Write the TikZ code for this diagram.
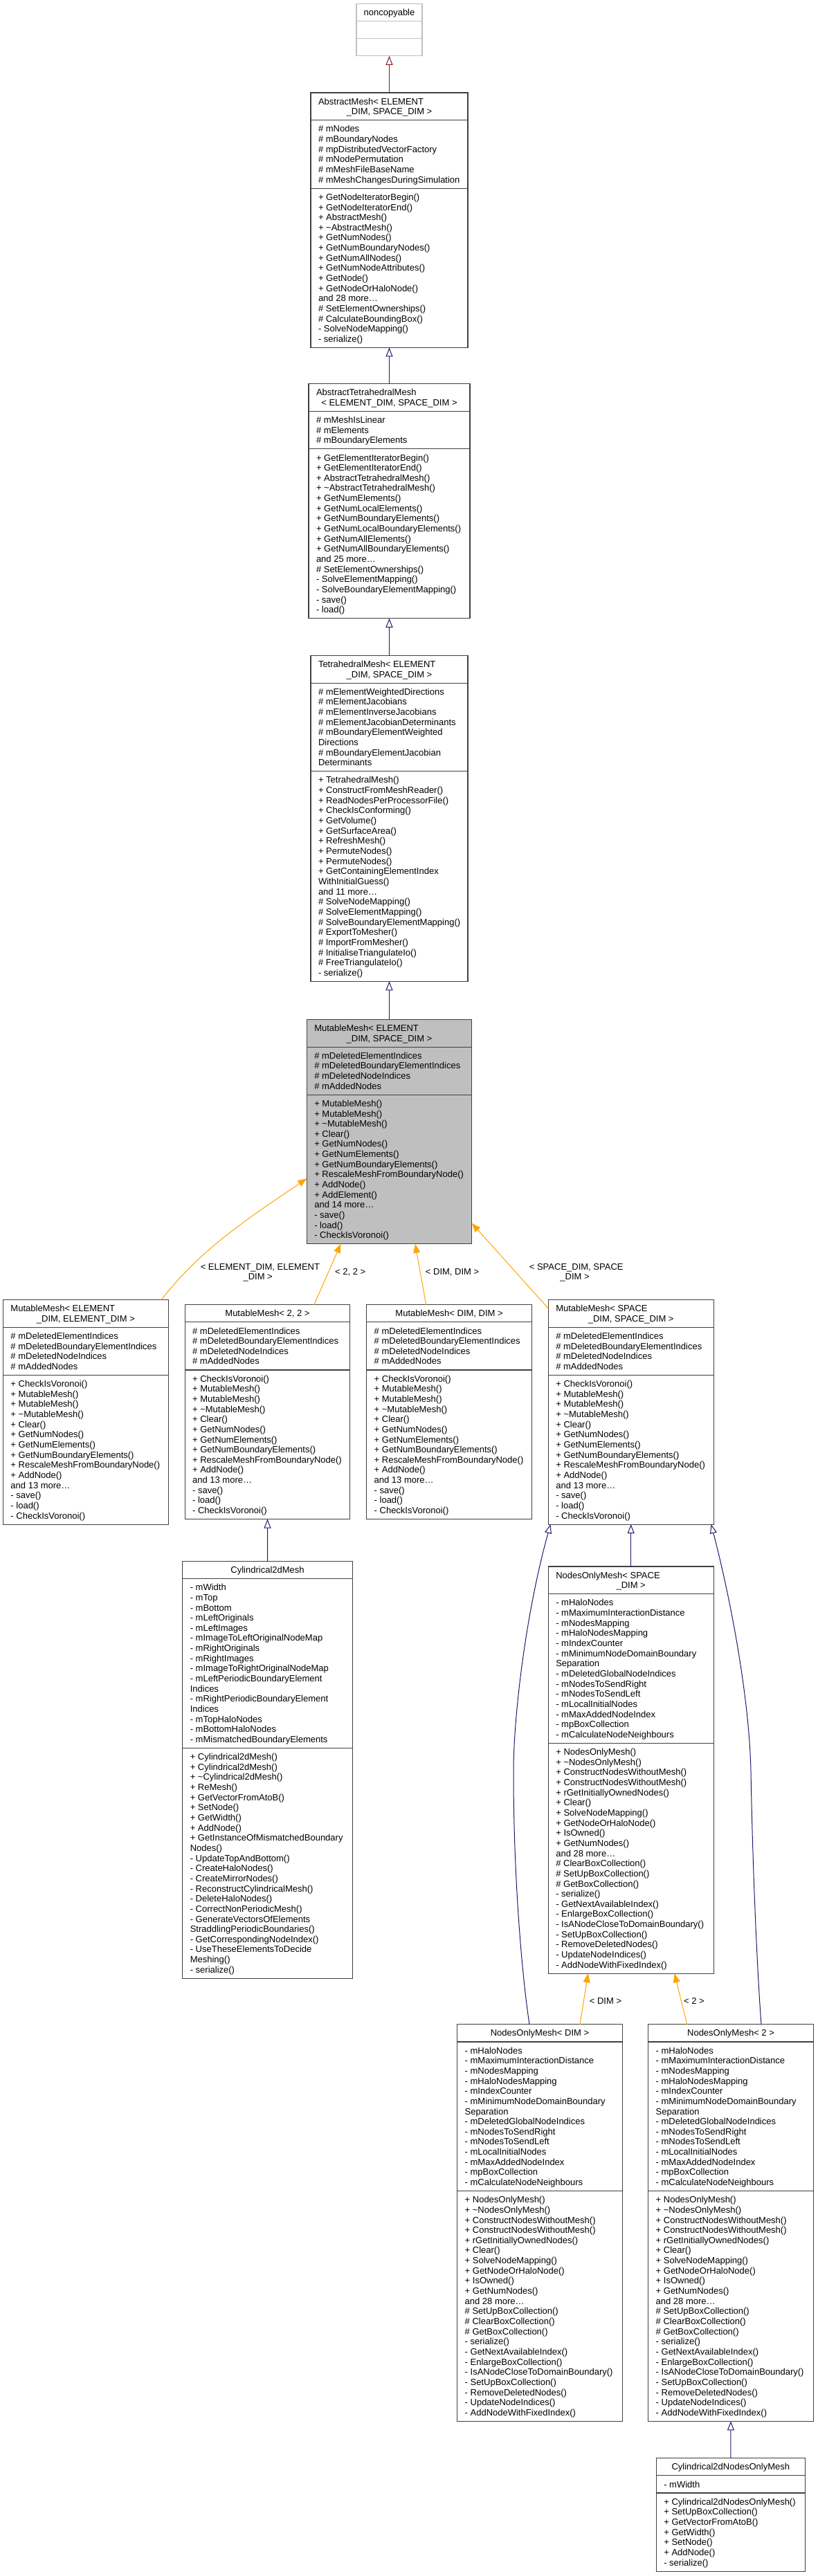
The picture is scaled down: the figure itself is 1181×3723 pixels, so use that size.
\documentclass[tikz,border=0pt]{standalone}
\usepackage{fontspec}
\setmainfont{Liberation Sans}
\usetikzlibrary{arrows.meta,calc}
\definecolor{edgeblue}{HTML}{191970}
\definecolor{edgered}{HTML}{8B1A1A}
\definecolor{edgeorange}{HTML}{FFA500}
\definecolor{boxgray}{HTML}{BFBFBF}
\definecolor{frameC}{HTML}{404040}
\def\bxfill{white}
\def\bxdraw{frameC}
\tikzset{
  recframe/.style={draw=\bxdraw, fill=\bxfill, line width=1.1pt, inner sep=0pt, outer sep=0pt, rectangle},
  sepline/.style={draw=\bxdraw, line width=1.1pt},
  txt/.style={inner sep=0pt, outer sep=0pt, text=black, font=\fontsize{13}{14.65}\selectfont},
  inh/.style={draw=edgeblue, line width=1pt, {Triangle[open, length=13pt, width=10pt]}-},
  ext/.style={draw=edgered, line width=1pt, {Triangle[open, length=13pt, width=10pt]}-},
  tmpl/.style={draw=edgeorange, line width=1pt, {Triangle[length=13pt, width=10pt]}-},
}
\newcommand{\umlframe}[7]{%
  \pgfmathsetmacro\ya{#4+#5*14.65+10.5}%
  \pgfmathsetmacro\yb{\ya+#6*14.65+10.5}%
  \pgfmathsetmacro\yc{\yb+#7*14.65+10.5}%
  \pgfmathsetmacro\bw{#3-#2}%
  \pgfmathsetmacro\bh{\yc-#4}%
  \node[recframe, minimum width=\bw pt, minimum height=\bh pt, anchor=north west] (#1) at (#2,#4) {};%
  \draw[sepline] (#2,\ya) -- (#3,\ya);%
  \draw[sepline] (#2,\yb) -- (#3,\yb);%
}
\newcommand{\umllines}[4]{%
  \foreach \t [count=\i from 0] in {#4} {\node[txt, anchor=base west] (#1\i) at (#2+11, #3+17.15+\i*14.65) {\t};}%
}
\newcommand{\umlbox}[9]{%
  \umlframe{#1}{#2}{#3}{#4}{#5}{#6}{#7}%
  \umllines{#1-a}{#2}{\ya}{#8}%
  \umllines{#1-m}{#2}{\yb}{#9}%
}
\newcommand{\ctitle}[3]{\node[txt, anchor=base] (#1-t#2) at ($(#1.north)+(0,17.15+#2*14.65)$) {#3};}
\newcommand{\ltitle}[3]{\node[txt, anchor=base west] (#1-t#2) at ($(#1.north west)+(11,17.15+#2*14.65)$) {#3};}

\begin{document}
\begin{tikzpicture}[x=1pt, y=-1pt]
\useasboundingbox (0,0) rectangle (1181,3723);
\fill[white] (0,0) rectangle (1181,3723);

% noncopyable
\def\bxdraw{boxgray}
\umlframe{nc}{515}{610}{5.4}{1}{1}{1}
\ctitle{nc}{0}{noncopyable}
\def\bxdraw{frameC}

% AbstractMesh
\umlbox{am}{449}{676}{134}{2}{6}{15}
{\# mNodes, \# mBoundaryNodes, \# mpDistributedVectorFactory, \# mNodePermutation, \# mMeshFileBaseName, \# mMeshChangesDuringSimulation}
{+ GetNodeIteratorBegin(), + GetNodeIteratorEnd(), + AbstractMesh(), + \textasciitilde AbstractMesh(), + GetNumNodes(), + GetNumBoundaryNodes(), + GetNumAllNodes(), + GetNumNodeAttributes(), + GetNode(), + GetNodeOrHaloNode(), and 28 more\ldots, \# SetElementOwnerships(), \# CalculateBoundingBox(), - SolveNodeMapping(), - serialize()}
\ltitle{am}{0}{AbstractMesh< ELEMENT}
\ctitle{am}{1}{\_DIM, SPACE\_DIM >}

% AbstractTetrahedralMesh
\umlbox{atm}{446}{679}{554.6}{2}{3}{16}
{\# mMeshIsLinear, \# mElements, \# mBoundaryElements}
{+ GetElementIteratorBegin(), + GetElementIteratorEnd(), + AbstractTetrahedralMesh(), + \textasciitilde AbstractTetrahedralMesh(), + GetNumElements(), + GetNumLocalElements(), + GetNumBoundaryElements(), + GetNumLocalBoundaryElements(), + GetNumAllElements(), + GetNumAllBoundaryElements(), and 25 more\ldots, \# SetElementOwnerships(), - SolveElementMapping(), - SolveBoundaryElementMapping(), - save(), - load()}
\ltitle{atm}{0}{AbstractTetrahedralMesh}
\ctitle{atm}{1}{< ELEMENT\_DIM, SPACE\_DIM >}

% TetrahedralMesh
\umlbox{tm}{449}{676}{947.3}{2}{8}{20}
{\# mElementWeightedDirections, \# mElementJacobians, \# mElementInverseJacobians, \# mElementJacobianDeterminants, \# mBoundaryElementWeighted, Directions, \# mBoundaryElementJacobian, Determinants}
{+ TetrahedralMesh(), + ConstructFromMeshReader(), + ReadNodesPerProcessorFile(), + CheckIsConforming(), + GetVolume(), + GetSurfaceArea(), + RefreshMesh(), + PermuteNodes(), + PermuteNodes(), + GetContainingElementIndex, WithInitialGuess(), and 11 more\ldots, \# SolveNodeMapping(), \# SolveElementMapping(), \# SolveBoundaryElementMapping(), \# ExportToMesher(), \# ImportFromMesher(), \# InitialiseTriangulateIo(), \# FreeTriangulateIo(), - serialize()}
\ltitle{tm}{0}{TetrahedralMesh< ELEMENT}
\ctitle{tm}{1}{\_DIM, SPACE\_DIM >}

% MutableMesh (main)
\def\bxfill{boxgray}
\umlbox{mm}{443.3}{681.7}{1473.3}{2}{4}{14}
{\# mDeletedElementIndices, \# mDeletedBoundaryElementIndices, \# mDeletedNodeIndices, \# mAddedNodes}
{+ MutableMesh(), + MutableMesh(), + \textasciitilde MutableMesh(), + Clear(), + GetNumNodes(), + GetNumElements(), + GetNumBoundaryElements(), + RescaleMeshFromBoundaryNode(), + AddNode(), + AddElement(), and 14 more\ldots, - save(), - load(), - CheckIsVoronoi()}
\ltitle{mm}{0}{MutableMesh< ELEMENT}
\ctitle{mm}{1}{\_DIM, SPACE\_DIM >}
\def\bxfill{white}

% MutableMesh instantiations
\umlbox{me}{4.5}{243.3}{1878.6}{2}{4}{14}
{\# mDeletedElementIndices, \# mDeletedBoundaryElementIndices, \# mDeletedNodeIndices, \# mAddedNodes}
{+ CheckIsVoronoi(), + MutableMesh(), + MutableMesh(), + \textasciitilde MutableMesh(), + Clear(), + GetNumNodes(), + GetNumElements(), + GetNumBoundaryElements(), + RescaleMeshFromBoundaryNode(), + AddNode(), and 13 more\ldots, - save(), - load(), - CheckIsVoronoi()}
\ltitle{me}{0}{MutableMesh< ELEMENT}
\ctitle{me}{1}{\_DIM, ELEMENT\_DIM >}

\umlbox{m22}{267.1}{505.9}{1885.7}{1}{4}{14}
{\# mDeletedElementIndices, \# mDeletedBoundaryElementIndices, \# mDeletedNodeIndices, \# mAddedNodes}
{+ CheckIsVoronoi(), + MutableMesh(), + MutableMesh(), + \textasciitilde MutableMesh(), + Clear(), + GetNumNodes(), + GetNumElements(), + GetNumBoundaryElements(), + RescaleMeshFromBoundaryNode(), + AddNode(), and 13 more\ldots, - save(), - load(), - CheckIsVoronoi()}
\ctitle{m22}{0}{MutableMesh< 2, 2 >}

\umlbox{mdd}{529.7}{768.5}{1885.7}{1}{4}{14}
{\# mDeletedElementIndices, \# mDeletedBoundaryElementIndices, \# mDeletedNodeIndices, \# mAddedNodes}
{+ CheckIsVoronoi(), + MutableMesh(), + MutableMesh(), + \textasciitilde MutableMesh(), + Clear(), + GetNumNodes(), + GetNumElements(), + GetNumBoundaryElements(), + RescaleMeshFromBoundaryNode(), + AddNode(), and 13 more\ldots, - save(), - load(), - CheckIsVoronoi()}
\ctitle{mdd}{0}{MutableMesh< DIM, DIM >}

\umlbox{mss}{792.3}{1031.1}{1878.6}{2}{4}{14}
{\# mDeletedElementIndices, \# mDeletedBoundaryElementIndices, \# mDeletedNodeIndices, \# mAddedNodes}
{+ CheckIsVoronoi(), + MutableMesh(), + MutableMesh(), + \textasciitilde MutableMesh(), + Clear(), + GetNumNodes(), + GetNumElements(), + GetNumBoundaryElements(), + RescaleMeshFromBoundaryNode(), + AddNode(), and 13 more\ldots, - save(), - load(), - CheckIsVoronoi()}
\ltitle{mss}{0}{MutableMesh< SPACE}
\ctitle{mss}{1}{\_DIM, SPACE\_DIM >}

% Cylindrical2dMesh
\umlbox{cyl}{263.8}{509.3}{2256.4}{1}{16}{22}
{- mWidth, - mTop, - mBottom, - mLeftOriginals, - mLeftImages, - mImageToLeftOriginalNodeMap, - mRightOriginals, - mRightImages, - mImageToRightOriginalNodeMap, - mLeftPeriodicBoundaryElement, Indices, - mRightPeriodicBoundaryElement, Indices, - mTopHaloNodes, - mBottomHaloNodes, - mMismatchedBoundaryElements}
{+ Cylindrical2dMesh(), + Cylindrical2dMesh(), + \textasciitilde Cylindrical2dMesh(), + ReMesh(), + GetVectorFromAtoB(), + SetNode(), + GetWidth(), + AddNode(), + GetInstanceOfMismatchedBoundary, Nodes(), - UpdateTopAndBottom(), - CreateHaloNodes(), - CreateMirrorNodes(), - ReconstructCylindricalMesh(), - DeleteHaloNodes(), - CorrectNonPeriodicMesh(), - GenerateVectorsOfElements, StraddlingPeriodicBoundaries(), - GetCorrespondingNodeIndex(), - UseTheseElementsToDecide, Meshing(), - serialize()}
\ctitle{cyl}{0}{Cylindrical2dMesh}

% NodesOnlyMesh<SPACE_DIM>
\umlbox{ns}{792.3}{1031.1}{2264}{2}{14}{22}
{- mHaloNodes, - mMaximumInteractionDistance, - mNodesMapping, - mHaloNodesMapping, - mIndexCounter, - mMinimumNodeDomainBoundary, Separation, - mDeletedGlobalNodeIndices, - mNodesToSendRight, - mNodesToSendLeft, - mLocalInitialNodes, - mMaxAddedNodeIndex, - mpBoxCollection, - mCalculateNodeNeighbours}
{+ NodesOnlyMesh(), + \textasciitilde NodesOnlyMesh(), + ConstructNodesWithoutMesh(), + ConstructNodesWithoutMesh(), + rGetInitiallyOwnedNodes(), + Clear(), + SolveNodeMapping(), + GetNodeOrHaloNode(), + IsOwned(), + GetNumNodes(), and 28 more\ldots, \# ClearBoxCollection(), \# SetUpBoxCollection(), \# GetBoxCollection(), - serialize(), - GetNextAvailableIndex(), - EnlargeBoxCollection(), - IsANodeCloseToDomainBoundary(), - SetUpBoxCollection(), - RemoveDeletedNodes(), - UpdateNodeIndices(), - AddNodeWithFixedIndex()}
\ltitle{ns}{0}{NodesOnlyMesh< SPACE}
\ctitle{ns}{1}{\_DIM >}

% NodesOnlyMesh<DIM>
\umlbox{nd}{660.7}{899.3}{2925.8}{1}{14}{22}
{- mHaloNodes, - mMaximumInteractionDistance, - mNodesMapping, - mHaloNodesMapping, - mIndexCounter, - mMinimumNodeDomainBoundary, Separation, - mDeletedGlobalNodeIndices, - mNodesToSendRight, - mNodesToSendLeft, - mLocalInitialNodes, - mMaxAddedNodeIndex, - mpBoxCollection, - mCalculateNodeNeighbours}
{+ NodesOnlyMesh(), + \textasciitilde NodesOnlyMesh(), + ConstructNodesWithoutMesh(), + ConstructNodesWithoutMesh(), + rGetInitiallyOwnedNodes(), + Clear(), + SolveNodeMapping(), + GetNodeOrHaloNode(), + IsOwned(), + GetNumNodes(), and 28 more\ldots, \# SetUpBoxCollection(), \# ClearBoxCollection(), \# GetBoxCollection(), - serialize(), - GetNextAvailableIndex(), - EnlargeBoxCollection(), - IsANodeCloseToDomainBoundary(), - SetUpBoxCollection(), - RemoveDeletedNodes(), - UpdateNodeIndices(), - AddNodeWithFixedIndex()}
\ctitle{nd}{0}{NodesOnlyMesh< DIM >}

% NodesOnlyMesh<2>
\umlbox{n2}{936.7}{1175.3}{2925.8}{1}{14}{22}
{- mHaloNodes, - mMaximumInteractionDistance, - mNodesMapping, - mHaloNodesMapping, - mIndexCounter, - mMinimumNodeDomainBoundary, Separation, - mDeletedGlobalNodeIndices, - mNodesToSendRight, - mNodesToSendLeft, - mLocalInitialNodes, - mMaxAddedNodeIndex, - mpBoxCollection, - mCalculateNodeNeighbours}
{+ NodesOnlyMesh(), + \textasciitilde NodesOnlyMesh(), + ConstructNodesWithoutMesh(), + ConstructNodesWithoutMesh(), + rGetInitiallyOwnedNodes(), + Clear(), + SolveNodeMapping(), + GetNodeOrHaloNode(), + IsOwned(), + GetNumNodes(), and 28 more\ldots, \# SetUpBoxCollection(), \# ClearBoxCollection(), \# GetBoxCollection(), - serialize(), - GetNextAvailableIndex(), - EnlargeBoxCollection(), - IsANodeCloseToDomainBoundary(), - SetUpBoxCollection(), - RemoveDeletedNodes(), - UpdateNodeIndices(), - AddNodeWithFixedIndex()}
\ctitle{n2}{0}{NodesOnlyMesh< 2 >}

% Cylindrical2dNodesOnlyMesh
\umlbox{c2n}{948.3}{1163.3}{3552.7}{1}{1}{7}
{- mWidth}
{+ Cylindrical2dNodesOnlyMesh(), + SetUpBoxCollection(), + GetVectorFromAtoB(), + GetWidth(), + SetNode(), + AddNode(), - serialize()}
\ctitle{c2n}{0}{Cylindrical2dNodesOnlyMesh}

% connectors
\draw[ext] (nc.south) -- (am.north);
\draw[inh] (am.south) -- (atm.north);
\draw[inh] (atm.south) -- (tm.north);
\draw[inh] (tm.south) -- (mm.north);
\draw[tmpl] ([yshift=-67.7pt]mm.west) .. controls (360,1760) and (290,1805) .. ([xshift=109.2pt]me.north);
\draw[tmpl] ([xshift=-70.1pt]mm.south) -- ([xshift=67.4pt]m22.north);
\draw[tmpl] ([xshift=37.5pt]mm.south) -- ([xshift=-33.4pt]mdd.north);
\draw[tmpl] ([yshift=-132.3pt]mm.east) -- ([yshift=-12.4pt]mss.north west);
\draw[inh] (m22.south) -- (cyl.north);
\draw[inh] (mss.south) -- (ns.north);
\draw[inh] ([xshift=3.2pt]mss.south west) .. controls (760,2330) and (742,2480) .. (742,2560) .. controls (742,2720) and (755,2860) .. ([xshift=-15pt]nd.north);
\draw[inh] ([xshift=-3.5pt]mss.south east) .. controls (1058,2320) and (1083,2460) .. (1085,2560) .. controls (1088,2720) and (1095,2860) .. ([xshift=44pt]n2.north);
\draw[tmpl] ([xshift=-62pt]ns.south) -- ([xshift=58pt]nd.north);
\draw[tmpl] ([xshift=63pt]ns.south) -- ([xshift=-63.3pt]n2.north);
\draw[inh] (n2.south) -- (c2n.north);

% connector labels
\node[txt, anchor=base] (l1a) at (375.9,1835) {< ELEMENT\_DIM, ELEMENT};
\node[txt, anchor=base] (l1b) at (372.7,1849.6) {\_DIM >};
\node[txt, anchor=base] (l2) at (506.2,1842.8) {< 2, 2 >};
\node[txt, anchor=base] (l3) at (653.6,1842.1) {< DIM, DIM >};
\node[txt, anchor=base] (l4a) at (832.7,1835) {< SPACE\_DIM, SPACE};
\node[txt, anchor=base] (l4b) at (830.6,1849.6) {\_DIM >};
\node[txt, anchor=base] (l5) at (875,2896.6) {< DIM >};
\node[txt, anchor=base] (l6) at (1003,2896.6) {< 2 >};
\end{tikzpicture}
\end{document}
